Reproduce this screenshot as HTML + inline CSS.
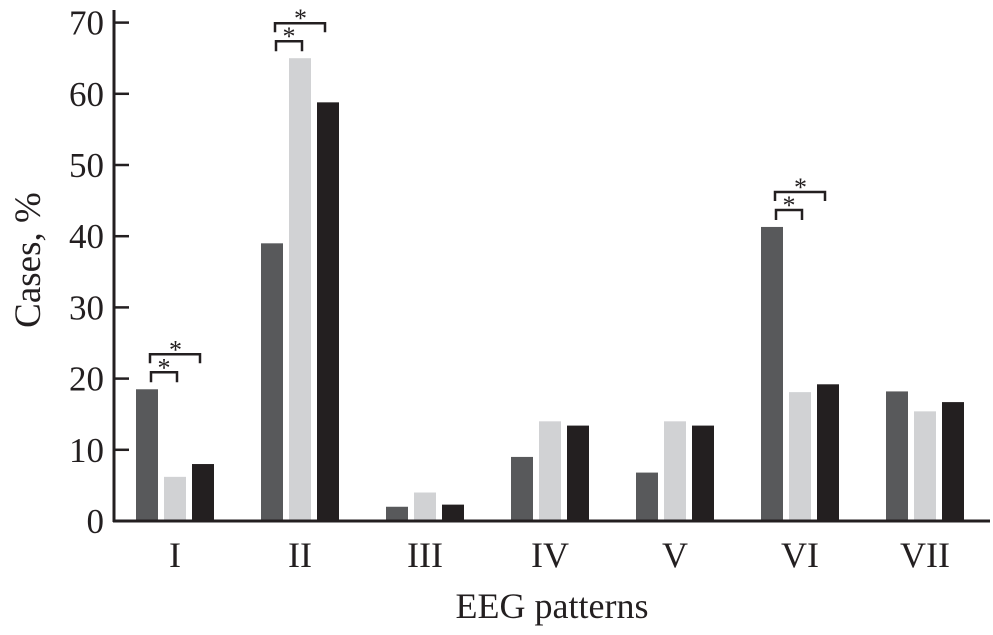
<!DOCTYPE html>
<html><head><meta charset="utf-8"><style>
body{margin:0;background:#fff}
svg text{font-family:"Liberation Serif",serif;fill:#231f20}
</style></head><body>
<svg id="chart" width="993" height="630" xmlns="http://www.w3.org/2000/svg"></svg>
<script>
const categories=["I","II","III","IV","V","VI","VII"];
const series1=[18.5,39,2,9,6.8,41.3,18.2];
const series2=[6.2,65,4,14,14,18.1,15.4];
const series3=[8,58.8,2.3,13.4,13.4,19.2,16.7];
const yTicks=[0,10,20,30,40,50,60,70];
const sigGroups=[0,1,5];
const NS="http://www.w3.org/2000/svg";
const svg=document.getElementById('chart');
const x0=114,yBase=521,pxPer=7.12,groupW=125,barW=22,firstBar=136;
const y=v=>yBase-v*pxPer;
const barX=(g,s)=>firstBar+g*groupW+s*28;
function mk(t,a){const e=document.createElementNS(NS,t);for(const k in a)e.setAttribute(k,a[k]);svg.appendChild(e);return e;}
const colors=["#58595b","#d1d2d4","#231f20"];
[series1,series2,series3].forEach((ser,s)=>{ser.forEach((v,g)=>{
 const r=mk('rect',{x:barX(g,s),y:y(v),width:barW,height:v*pxPer,fill:colors[s]});
 
 
});});
const ax=mk('line',{x1:x0,y1:10,x2:x0,y2:yBase+1,stroke:'#231f20','stroke-width':3});

const bx=mk('line',{x1:x0-1,y1:yBase,x2:990,y2:yBase,stroke:'#231f20','stroke-width':3});

yTicks.forEach(t=>{
 const l=mk('line',{x1:x0,y1:y(t),x2:x0+15,y2:y(t),stroke:'#231f20','stroke-width':2.5});
 
 const tx=mk('text',{x:x0-10,y:y(t)+12,'text-anchor':'end','font-size':35});
 tx.textContent=t;
 
});
categories.forEach((c,g)=>{
 const tx=mk('text',{x:barX(g,1)+barW/2,y:567,'text-anchor':'middle','font-size':36});
 tx.textContent=c;
 
});
sigGroups.forEach(g=>{
 const top=y(Math.max(series1[g],series2[g]));
 const c1=barX(g,0)+barW/2+4,c2=barX(g,1)+barW/2+2,c3=barX(g,2)+barW/2-3;
 const b1=top-17,b2=top-35;
 const p1=mk('path',{d:`M${c1} ${b1+10}V${b1}H${c2}V${b1+10}`,fill:'none',stroke:'#231f20','stroke-width':2.5});
 
 const p2=mk('path',{d:`M${c1-1} ${b2+9}V${b2}H${c3}V${b2+9}`,fill:'none',stroke:'#231f20','stroke-width':2.5});
 
 const a1=mk('text',{x:(c1+c2)/2,y:b1+4,'text-anchor':'middle','font-size':26});a1.textContent='*';
 
 const a2=mk('text',{x:(c1+c3)/2,y:b2+4,'text-anchor':'middle','font-size':26});a2.textContent='*';
 
});
const xl=mk('text',{x:552,y:618,'text-anchor':'middle','font-size':36});xl.textContent='EEG patterns';

const yl=mk('text',{x:0,y:0,'text-anchor':'middle','font-size':37,transform:'translate(40,260) rotate(-90)'});yl.textContent='Cases, %';

</script>
</body></html>
